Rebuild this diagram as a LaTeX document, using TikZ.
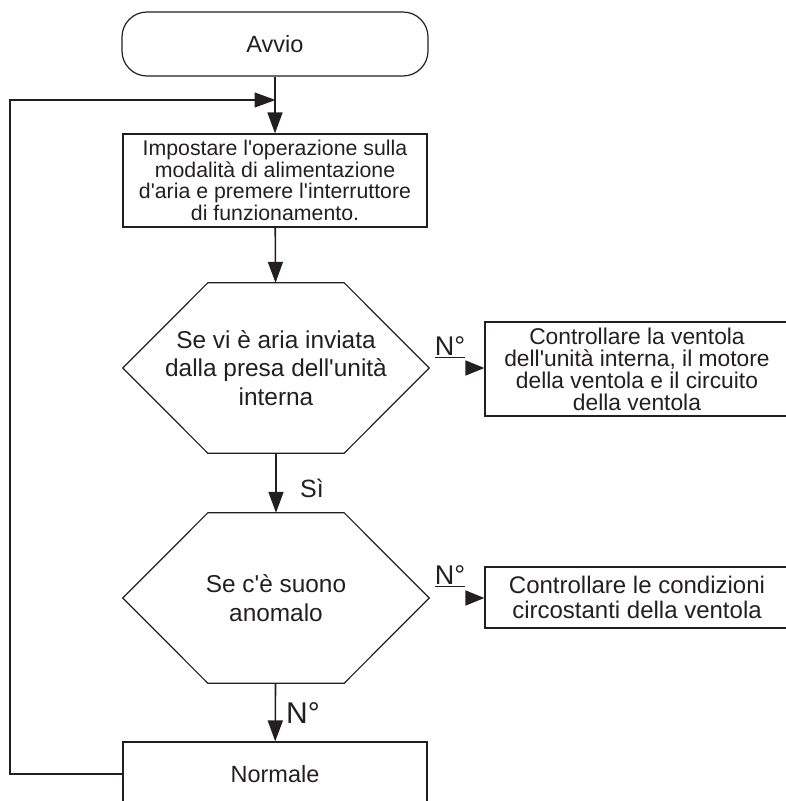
\documentclass[tikz,border=0pt]{standalone}
\usepackage{fontspec}
\setmainfont{Liberation Sans}[Ligatures=TeXOff]
\usetikzlibrary{arrows.meta}

\definecolor{ink}{RGB}{35,31,32}

\tikzset{
  base/.style={font=\fontsize{23.5}{26}\selectfont, align=center, inner sep=0pt, text=ink},
  startbox/.style={base, draw=ink, line width=1.2pt, rounded corners=25pt, minimum width=306pt, minimum height=64pt},
  box/.style={base, draw=ink, line width=1.2pt, minimum width=304pt},
  hexa/.style={base, minimum width=306pt, minimum height=170pt, font=\fontsize{24.4}{28.5}\selectfont},
  arr/.style={draw=ink, line width=1.6pt, -{Triangle[length=21pt,width=15pt]}},
  side/.style={draw=ink, line width=1.6pt, -{Triangle[length=19pt,width=15pt]}, shorten <=37pt},
  lab/.style={base, font=\fontsize{25}{25}\selectfont}
}

\begin{document}
\begin{tikzpicture}[x=1pt,y=-1pt]
  \useasboundingbox (0,0) rectangle (786,801);

  \node[startbox] (start) at (275,44) {Avvio};
  \node[box, minimum height=93pt, font=\fontsize{21.3}{21.7}\selectfont] (set) at (275,180.5)
    {Impostare l'operazione sulla\\modalità di alimentazione\\d'aria e premere l'interruttore\\di funzionamento.};
  \node[hexa] (hexA) at (276,368) {Se vi è aria inviata\\dalla presa dell'unità\\interna};
  \node[hexa] (hexB) at (276,598) {Se c'è suono\\anomalo};
  \node[box, minimum height=64pt] (norm) at (275,774) {Normale};

  \node[box, minimum height=94pt, font=\fontsize{22.8}{22}\selectfont] (chkA) at (637,369)
    {Controllare la ventola\\dell'unità interna, il motore\\della ventola e il circuito\\della ventola};
  \node[box, minimum height=61pt, font=\fontsize{24}{25}\selectfont] (chkB) at (637,597.5)
    {Controllare le condizioni\\circostanti della ventola};

  \foreach \h in {hexA,hexB}
    \draw[ink, line width=1.2pt] (\h.west) -- ([xshift=85pt]\h.north west) -- ([xshift=-85pt]\h.north east)
      -- (\h.east) -- ([xshift=-85pt]\h.south east) -- ([xshift=85pt]\h.south west) -- cycle;

  \coordinate (join) at (275,100);
  \coordinate (loop) at (10,100);

  \draw[arr] (start) -- (set);
  \draw[arr] (set) -- (hexA);
  \draw[arr] (hexA) -- (hexB);
  \draw[arr] (hexB) -- (norm);
  \draw[arr, line width=1.4pt, shorten >=-0.5pt] (norm.west) -| (loop) -- (join);

  \draw[side] (hexA.east) -- (hexA.east -| chkA.west);
  \draw[side] (hexB.east) -- (hexB.east -| chkB.west);

  \node[lab] (yes) at (312,488) {Sì};
  \node[lab, font=\fontsize{30}{30}\selectfont] (noC) at (303,713) {N°};
  \node[lab, font=\fontsize{27}{27}\selectfont] (noA) at (450,347) {\underline{N°}};
  \node[lab, font=\fontsize{27}{27}\selectfont] (noB) at (450,576) {\underline{N°}};
\end{tikzpicture}
\end{document}
